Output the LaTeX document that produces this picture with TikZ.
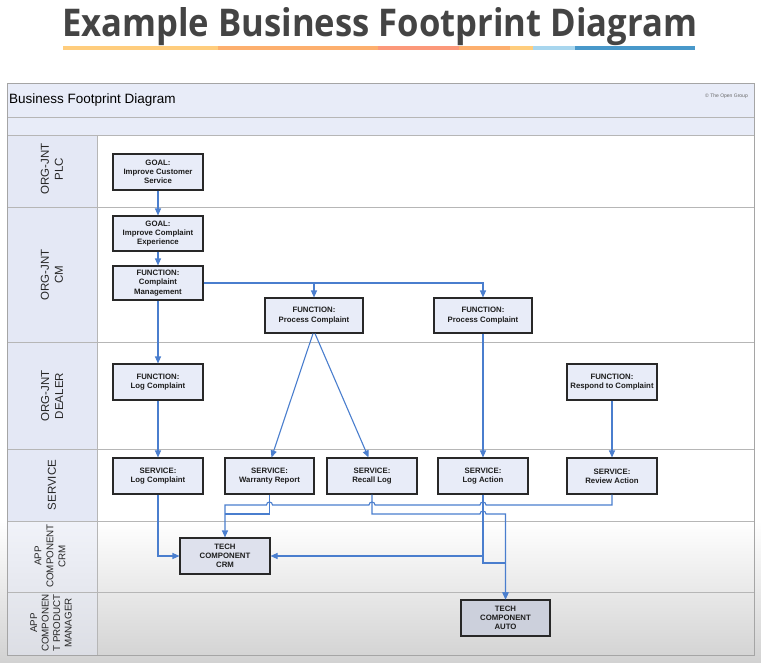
\documentclass[tikz,border=0pt]{standalone}
\usepackage{graphicx}
\usepackage{fontspec}
\setmainfont{Liberation Sans}
\newfontfamily\titlefont{Open Sans}
\usetikzlibrary{arrows.meta}
\definecolor{lav}{RGB}{232,236,248}
\definecolor{lanecol}{RGB}{228,232,245}
\definecolor{flowblue}{RGB}{74,126,206}
\definecolor{gridgray}{RGB}{182,182,182}
\definecolor{framegray}{RGB}{165,165,165}
\definecolor{titlegray}{RGB}{68,68,68}
\definecolor{boxborder}{RGB}{40,40,40}
\definecolor{boxtext}{RGB}{30,30,30}
\definecolor{crmfill}{RGB}{222,225,237}
\definecolor{autofill}{RGB}{204,208,220}
\definecolor{bggray}{RGB}{210,210,210}
\definecolor{cA}{RGB}{255,205,125}
\definecolor{cB}{RGB}{253,175,110}
\definecolor{cC}{RGB}{252,152,122}
\definecolor{cD}{RGB}{168,214,238}
\definecolor{cE}{RGB}{72,152,202}
\tikzset{
  box/.style={draw=boxborder, line width=1.1pt, fill=lav, align=center,
    text=boxtext, font=\bfseries\fontsize{7.8}{9.2}\selectfont, inner sep=0pt,
    minimum width=90pt, minimum height=36pt},
  lanelabel/.style={rotate=90, align=center, text=black!85,
    font=\fontsize{11.5}{14}\selectfont},
  flowline/.style={draw=flowblue, line width=1.1pt},
  flow/.style={flowline, -{Triangle[length=7pt,width=6pt]}}
}
\begin{document}
\begin{tikzpicture}[x=1pt,y=-1pt]
\useasboundingbox (0,0) rectangle (761,662);
\fill[white] (0,0) rectangle (761,662);
\shade[top color=white, bottom color=bggray] (0,521) rectangle (761,662);

% title
\node[anchor=base west, inner sep=0pt, text=titlegray] (title) at (62,36)
  {\resizebox{635pt}{29pt}{\titlefont\bfseries Example Business Footprint Diagram}};
\fill[cA] (63,46) rectangle (218,50);
\fill[cB] (218,46) rectangle (378,50);
\fill[cC] (378,46) rectangle (459,50);
\fill[cB] (459,46) rectangle (510,50);
\fill[cA] (510,46) rectangle (533,50);
\fill[cD] (533,46) rectangle (575,50);
\fill[cE] (575,46) rectangle (695,50);

% frame
\fill[lav] (7,83) rectangle (754,135);
\fill[lanecol] (7,135) rectangle (97,521);
\fill[lanecol, opacity=0.5] (7,521) rectangle (97,655);
\draw[gridgray] (7,117.5) -- (754,117.5);
\foreach \yy in {135,207,342.5,449,521,592} {\draw[gridgray, line width=0.9pt] (7,\yy) -- (754,\yy);}
\draw[gridgray, line width=0.9pt] (97,135) -- (97,655);
\draw[framegray, line width=1pt] (7,83) rectangle (754,655);

\node[anchor=west, inner sep=0pt, font=\fontsize{13.5}{16}\selectfont] (hdr) at (9,100) {Business Footprint Diagram};
\node[anchor=east, inner sep=0pt, text=black!60, font=\fontsize{5}{6}\selectfont] (copy) at (748,96) {© The Open Group};

% lane labels
\node[lanelabel] (lplc) at (52,169) {ORG-JNT\\PLC};
\node[lanelabel] (lcm) at (52,275) {ORG-JNT\\CM};
\node[lanelabel] (ldealer) at (52,396) {ORG-JNT\\DEALER};
\node[lanelabel] (lsvc) at (52,485) {SERVICE};
\node[lanelabel, font=\fontsize{9.8}{12}\selectfont] (lcrm) at (50,556) {APP\\COMPONENT\\CRM};
\node[lanelabel, font=\fontsize{9.8}{11.5}\selectfont] (lpm) at (51,623) {APP\\COMPONEN\\T PRODUCT\\MANAGER};

% boxes
\node[box] (g1) at (158,172) {GOAL:\\Improve Customer\\Service};
\node[box, minimum height=35pt] (g2) at (158,233.5) {GOAL:\\Improve Complaint\\Experience};
\node[box, minimum height=34pt] (fcm) at (158,283) {FUNCTION:\\Complaint\\Management};
\node[box, minimum width=98pt, minimum height=35pt] (pc1) at (314,315.5) {FUNCTION:\\Process Complaint};
\node[box, minimum width=98pt, minimum height=35pt] (pc2) at (483,315.5) {FUNCTION:\\Process Complaint};
\node[box] (flog) at (158,382) {FUNCTION:\\Log Complaint};
\node[box] (fresp) at (612,382) {FUNCTION:\\Respond to Complaint};
\node[box] (slog) at (158,476) {SERVICE:\\Log Complaint};
\node[box, minimum width=89pt] (swar) at (269.5,476) {SERVICE:\\Warranty Report};
\node[box] (srec) at (372,476) {SERVICE:\\Recall Log};
\node[box] (sact) at (483,476) {SERVICE:\\Log Action};
\node[box] (srev) at (612,476) {SERVICE:\\Review Action};
\node[box, fill=crmfill] (tcrm) at (225,556) {TECH\\COMPONENT\\CRM};
\node[box, fill=autofill, minimum width=89pt] (tauto) at (505.5,618) {TECH\\COMPONENT\\AUTO};

% connectors
\draw[flow] (g1.south) -- (g2.north);
\draw[flow] (g2.south) -- (fcm.north);
\draw[flow] (fcm.south) -- (flog.north);
\draw[flow] (fcm.east) -| (pc1.north);
\draw[flow] (fcm.east) -| (pc2.north);
\draw[flow] ([xshift=-1pt]pc1.south) -- ([xshift=2pt]swar.north);
\draw[flow] ([xshift=1pt]pc1.south) -- ([xshift=-3.5pt]srec.north);
\draw[flow] (pc2.south) -- (sact.north);
\draw[flow] (flog.south) -- (slog.north);
\draw[flow] (fresp.south) -- (srev.north);
\draw[flow] (slog.south) |- (tcrm.west);
\draw[flow] (srev.south) -- (612,505) -- (486,505)
  arc[start angle=0, end angle=-180, radius=3] -- (375,505)
  arc[start angle=0, end angle=-180, radius=3] -- (272.5,505)
  arc[start angle=0, end angle=-180, radius=3] -- (225,505) -- (tcrm.north);
\draw[flowline] (swar.south) |- (225,514);
\draw[flow] (srec.south) |- (480,514)
  arc[start angle=-180, end angle=0, radius=3] -| (tauto.north);
\draw[flow] (sact.south) |- (tcrm.east);
\draw[flow] (sact.south) -- (483,563) -| (tauto.north);
\end{tikzpicture}
\end{document}
